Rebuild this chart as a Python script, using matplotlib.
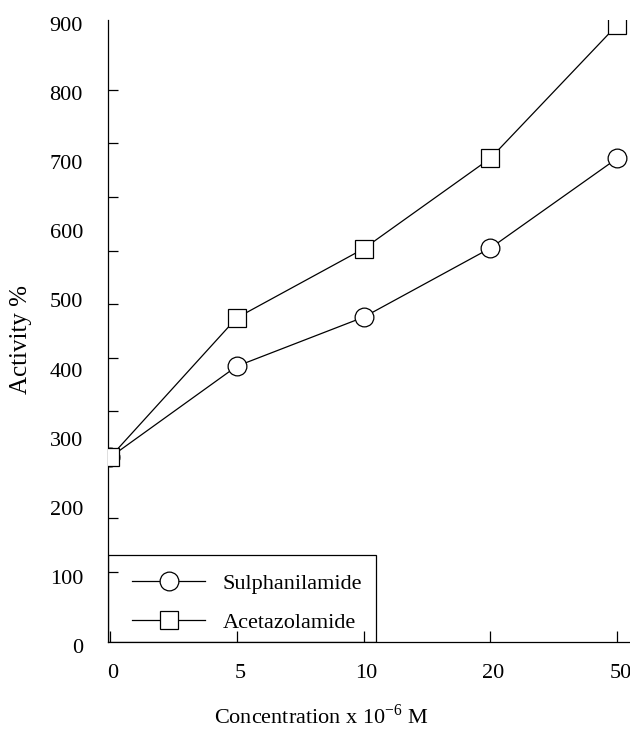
import matplotlib
matplotlib.use("Agg")
import matplotlib.pyplot as plt
from matplotlib.patches import Rectangle
from matplotlib.transforms import ScaledTranslation

# data
concentrations = ["0", "5", "10", "20", "50"]
sulphanilamide = [267, 399, 470, 570, 700]
acetazolamide = [267, 469, 569, 700, 893]

y_labels = [0, 100, 200, 300, 400, 500, 600, 700, 800, 900]
# the tick marks on the original do not line up with the labels
y_marks = [101, 179, 256, 334, 411, 489, 566, 644, 722, 799]

plt.rcParams["font.family"] = ["Liberation Serif", "DejaVu Serif"]
plt.rcParams["mathtext.fontset"] = "custom"
plt.rcParams["mathtext.rm"] = "Liberation Serif"


def main():
    fig = plt.figure(figsize=(6.3, 7.29), dpi=100)
    ax = fig.add_axes([108 / 630, 87 / 729, 522 / 630, 622 / 729])

    xs = range(len(concentrations))
    ax.plot(xs, sulphanilamide, color="black", lw=0.9, marker="o", ms=13.5,
            mfc="white", mec="black", mew=0.9, label="Sulphanilamide", zorder=3)
    ax.plot(xs, acetazolamide, color="black", lw=0.9, marker="s", ms=13,
            mfc="white", mec="black", mew=0.9, label="Acetazolamide", zorder=4)

    ax.set_xlim(-0.015, 4.1)
    ax.set_ylim(0, 900)

    for s in ["top", "right"]:
        ax.spines[s].set_visible(False)
    ax.spines["left"].set_linewidth(0.9)
    ax.spines["bottom"].set_linewidth(0.9)

    ax.set_xticks(list(xs))
    ax.set_xticklabels(concentrations)
    ax.tick_params(axis="x", direction="in", length=8, width=0.9, pad=16, labelsize=16)

    ax.set_yticks(y_labels)
    ax.set_yticks(y_marks, minor=True)
    ax.tick_params(axis="y", which="major", length=0, pad=18, labelsize=16)
    ax.tick_params(axis="y", which="minor", direction="in", length=7, width=0.9)

    # labels sit a little off their positions in the original
    down = ScaledTranslation(0, -4 / 100, fig.dpi_scale_trans)
    for lab in ax.get_yticklabels():
        lab.set_transform(lab.get_transform() + down)
    right = ScaledTranslation(3 / 100, 0, fig.dpi_scale_trans)
    for lab in ax.get_xticklabels():
        lab.set_transform(lab.get_transform() + right)

    ax.set_xlabel(r"Concentration x 10$^{-6}$ M", fontsize=16, labelpad=15, x=0.408)
    ax.set_ylabel("Activity %", fontsize=18)
    ax.yaxis.set_label_coords(-0.145, 0.486)

    # legend box in the original sits on the axes corner
    ax.add_patch(Rectangle((0, 0), 268 / 522, 87 / 622, transform=ax.transAxes,
                           fill=False, edgecolor="black", lw=0.9, zorder=5))
    ax.legend(loc="lower left", bbox_to_anchor=(24 / 522, 9 / 622),
              borderaxespad=0, borderpad=0, frameon=False,
              fontsize=16, handlelength=3.3, handletextpad=0.77,
              labelspacing=0.82)

    fig.savefig("out.png", dpi=100)


if __name__ == "__main__":
    main()
